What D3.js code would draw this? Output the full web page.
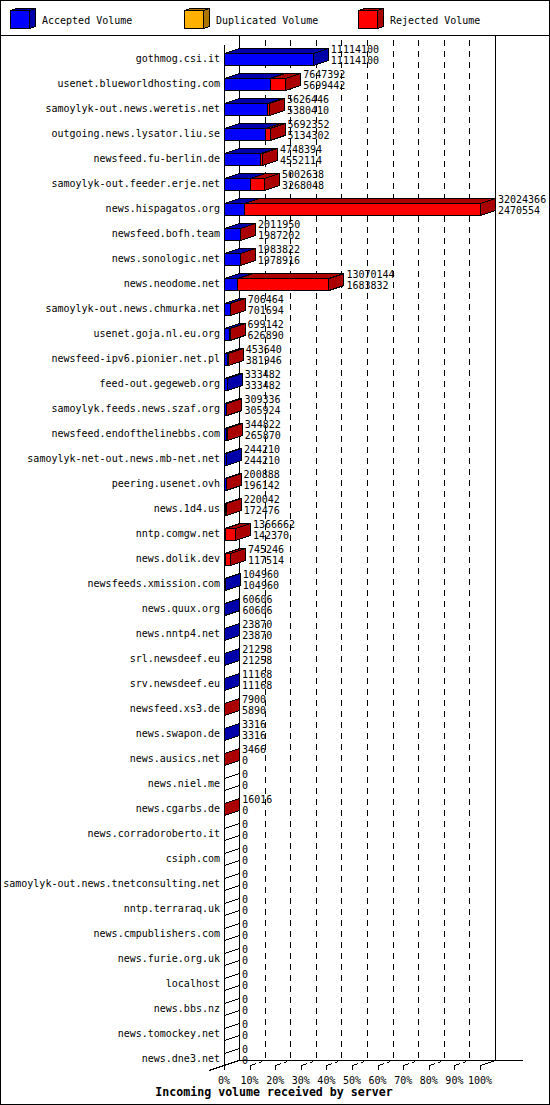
<!DOCTYPE html>
<html><head><meta charset="utf-8">
<script src="https://cdn.jsdelivr.net/npm/d3@7"></script>
<style>
html,body{margin:0;padding:0;background:#fff;}
svg{display:block;}
text{font-family:"DejaVu Sans Mono",monospace;font-size:10px;fill:#000;}
</style></head><body>
<script>
const servers = ["gothmog.csi.it","usenet.blueworldhosting.com","samoylyk-out.news.weretis.net","outgoing.news.lysator.liu.se","newsfeed.fu-berlin.de","samoylyk-out.feeder.erje.net","news.hispagatos.org","newsfeed.bofh.team","news.sonologic.net","news.neodome.net","samoylyk-out.news.chmurka.net","usenet.goja.nl.eu.org","newsfeed-ipv6.pionier.net.pl","feed-out.gegeweb.org","samoylyk.feeds.news.szaf.org","newsfeed.endofthelinebbs.com","samoylyk-net-out.news.mb-net.net","peering.usenet.ovh","news.1d4.us","nntp.comgw.net","news.dolik.dev","newsfeeds.xmission.com","news.quux.org","news.nntp4.net","srl.newsdeef.eu","srv.newsdeef.eu","newsfeed.xs3.de","news.swapon.de","news.ausics.net","news.niel.me","news.cgarbs.de","news.corradoroberto.it","csiph.com","samoylyk-out.news.tnetconsulting.net","nntp.terraraq.uk","news.cmpublishers.com","news.furie.org.uk","localhost","news.bbs.nz","news.tomockey.net","news.dne3.net"];
const totalVolume = [11114100,7647392,5626446,5692352,4748394,5002638,32024366,2011950,1983822,13070144,706464,699142,453640,333482,309336,344822,244210,200888,220042,1366662,745246,104960,60606,23870,21258,11168,7900,3316,3466,0,16016,0,0,0,0,0,0,0,0,0,0];
const acceptedVolume = [11114100,5699442,5380410,5134302,4552114,3268048,2470554,1987202,1978916,1683832,701694,626890,381946,333482,305924,265870,244210,196142,172476,142370,117514,104960,60606,23870,21258,11168,5890,3316,0,0,0,0,0,0,0,0,0,0,0,0,0];
const duplicatedVolume = [0,0,0,0,0,0,0,0,0,0,0,0,0,0,0,0,0,0,0,0,0,0,0,0,0,0,0,0,0,0,0,0,0,0,0,0,0,0,0,0,0];
const percentTicks = [0,10,20,30,40,50,60,70,80,90,100];
const legendLabels = ["Accepted Volume","Duplicated Volume","Rejected Volume"];
const axisTitle = "Incoming volume received by server";

const W=550,H=1105;
const front=["#0000FF","#FFB000","#FF0000"];
const shade=["#0000AA","#AA7500","#AA0000"];
const DX=15, DY=5, HALF=6;

const svg=d3.select("body").append("svg").attr("width",W).attr("height",H)
  .attr("shape-rendering","crispEdges");

svg.append("rect").attr("x",0.5).attr("y",0.5).attr("width",W-1).attr("height",H-1)
  .attr("fill","#fff").attr("stroke","#000");
svg.append("line").attr("x1",0).attr("x2",W).attr("y1",35.5).attr("y2",35.5).attr("stroke","#000");

// legend
const legX=[10,184,358];
legendLabels.forEach((l,i)=>{
  const g=svg.append("g");
  const x=legX[i]+0.5,y=10.5,w=19,h=18,dx=6,dy=2;
  g.append("polygon").attr("points",[[x,y],[x+dx,y-dy],[x+w+dx,y-dy],[x+w,y]].join(" "))
    .attr("fill",shade[i]).attr("stroke","#000");
  g.append("polygon").attr("points",[[x+w,y],[x+w+dx,y-dy],[x+w+dx,y+h-dy],[x+w,y+h]].join(" "))
    .attr("fill",shade[i]).attr("stroke","#000");
  g.append("rect").attr("x",x).attr("y",y).attr("width",w).attr("height",h)
    .attr("fill",front[i]).attr("stroke","#000");
  g.append("text").attr("x",legX[i]+32).attr("y",23.5).text(l);
});

const xs=d3.scaleLinear().domain([0,d3.max(totalVolume)]).range([224,480]);
const ps=d3.scaleLinear().domain([0,100]).range([224,480]);
const ys=d3.scalePoint().domain(servers).range([59,1059]);
const floorY=1065;
const topY=40;

// back wall & grid
const grid=svg.append("g");
grid.append("line").attr("x1",ps(0)+DX+0.5).attr("x2",ps(0)+DX+0.5).attr("y1",36).attr("y2",floorY-DY+0.5).attr("stroke","#000");
grid.append("line").attr("x1",ps(100)+DX+0.5).attr("x2",ps(100)+DX+0.5).attr("y1",36).attr("y2",floorY-DY+0.5).attr("stroke","#000");
percentTicks.filter(p=>p>0&&p<100).forEach(p=>{
  const bx=Math.round(ps(p)+DX)+0.5;
  grid.append("line").attr("x1",bx).attr("x2",bx).attr("y1",topY).attr("y2",floorY-DY)
    .attr("stroke","#000").attr("stroke-dasharray","6,5");
});
// floor back line
grid.append("line").attr("x1",ps(0)+DX).attr("x2",523).attr("y1",floorY-DY+0.5).attr("y2",floorY-DY+0.5).attr("stroke","#000");
// left slanted floor edge
grid.append("line").attr("x1",ps(0)-DX).attr("y1",floorY+DY+0.5).attr("x2",ps(0)+DX).attr("y2",floorY-DY+0.5).attr("stroke","#000");
// right slanted edge
grid.append("line").attr("x1",ps(100)+0.5).attr("y1",floorY+0.5).attr("x2",ps(100)+DX+0.5).attr("y2",floorY-DY+0.5).attr("stroke","#000");
// floor grid ticks
percentTicks.forEach(p=>{
  const fx=Math.round(ps(p))+0.5;
  svg.append("line").attr("x1",fx).attr("x2",fx).attr("y1",floorY).attr("y2",floorY+5).attr("stroke","#000");
  if(p>0&&p<100){
    grid.append("line").attr("x1",fx).attr("y1",floorY+0.5).attr("x2",fx+DX).attr("y2",floorY-DY+0.5)
      .attr("stroke","#000").attr("stroke-dasharray","6,3,3,20");
  }
  svg.append("text").attr("x",ps(p)).attr("y",1084).attr("text-anchor","middle").text(p+"%");
});

// front axis
svg.append("line").attr("x1",224.5).attr("x2",224.5).attr("y1",45).attr("y2",floorY+1).attr("stroke","#000");

// bars
const bars=svg.append("g");
servers.forEach((s,i)=>{
  const c=ys(s);
  const vals=[acceptedVolume[i],duplicatedVolume[i],totalVolume[i]-acceptedVolume[i]-duplicatedVolume[i]];
  let cum=0,last=-1;
  vals.forEach((v,k)=>{if(v>0) last=k;});
  const yt=c-HALF+0.5, yb=c+HALF+0.5;
  vals.forEach((v,k)=>{
    if(v<=0) return;
    const xa=xs(cum)+0.5, xb=xs(cum+v)+0.5;
    cum+=v;
    bars.append("polygon").attr("points",[[xa,yt],[xa+DX,yt-DY],[xb+DX,yt-DY],[xb,yt]].join(" "))
      .attr("fill",shade[k]).attr("stroke","#000");
    bars.append("rect").attr("x",xa).attr("y",yt).attr("width",Math.max(0,xb-xa)).attr("height",yb-yt)
      .attr("fill",front[k]).attr("stroke","#000");
    if(k===last){
      bars.append("polygon").attr("points",[[xb,yt],[xb+DX,yt-DY],[xb+DX,yb-DY],[xb,yb]].join(" "))
        .attr("fill",shade[k]).attr("stroke","#000");
    }
  });
  if(last<0){
    const x=xs(0)+0.5;
    bars.append("polygon").attr("points",[[x,yt],[x+DX,yt-DY],[x+DX,yb-DY],[x,yb]].join(" "))
      .attr("fill","none").attr("stroke","#000");
  }
  const xe=xs(totalVolume[i])+DX+3;
  svg.append("text").attr("x",xe).attr("y",c-6).text(totalVolume[i]);
  svg.append("text").attr("x",xe).attr("y",c+5).text(acceptedVolume[i]);
  svg.append("text").attr("x",220).attr("y",c+3).attr("text-anchor","end").text(s);
});

svg.append("text").attr("x",274).attr("y",1096).attr("text-anchor","middle")
  .style("font-weight","bold").style("font-size","11.6px").text(axisTitle);
</script>
</body></html>
